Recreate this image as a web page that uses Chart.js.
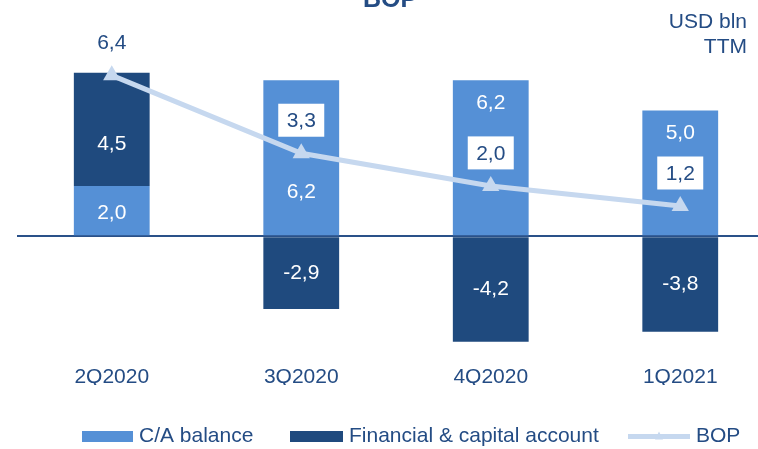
<!DOCTYPE html>
<html>
<head>
<meta charset="utf-8">
<script src="https://cdn.jsdelivr.net/npm/chart.js@4"></script>
<style>
  html, body { margin: 0; padding: 0; background: #fff; overflow: hidden; }
  #wrap { position: relative; width: 758px; height: 449px; overflow: hidden; }
</style>
</head>
<body>
<div id="wrap"><canvas id="chart" width="785" height="449"></canvas></div>
<script>
// Data
const quarters = ['2Q2020', '3Q2020', '4Q2020', '1Q2021'];
const caBalance = [2.0, 6.2, 6.2, 5.0];
const finAccount = [4.5, -2.9, -4.2, -3.8];
const bop = [6.4, 3.3, 2.0, 1.2];

const NAVY_TEXT = '#244c84';
const LIGHT_BAR = '#5590d6';
const DARK_BAR = '#1f4a7e';
const LINE_COL = '#c6d8ef';
const FONT = '"Liberation Sans", Arial, sans-serif';

Chart.defaults.font.family = FONT;
Chart.defaults.font.size = 21;

const fmt = v => v.toFixed(1).replace('.', ',');

// labels inside bars, boxed labels above the BOP line, title and legend
const labelsPlugin = {
    id: 'bopLabels',
    afterDatasetsDraw(chart, args, opts) {
        const ctx = chart.ctx;
        ctx.save();
        ctx.font = '21px ' + FONT;
        ctx.textAlign = 'center';
        ctx.textBaseline = 'middle';

        // bar segment labels
        [1, 2].forEach(di => {
            const meta = chart.getDatasetMeta(di);
            const vals = chart.data.datasets[di].data;
            meta.data.forEach((el, i) => {
                const nudge = (opts.nudge[di] || [])[i] || 0;
                const y = (el.y + el.base) / 2 + nudge;
                ctx.fillStyle = '#ffffff';
                ctx.fillText(fmt(vals[i]), el.x, y);
            });
        });

        // BOP labels in white boxes
        const lineMeta = chart.getDatasetMeta(0);
        lineMeta.data.forEach((pt, i) => {
            const cy = pt.y - opts.lift;
            ctx.fillStyle = '#ffffff';
            ctx.fillRect(pt.x - 23, cy - 16.5, 46, 33);
            ctx.fillStyle = NAVY_TEXT;
            ctx.fillText(fmt(bop[i]), pt.x, cy + 1);
        });
        ctx.restore();
    },
    afterDraw(chart) {
        const ctx = chart.ctx;
        ctx.save();
        ctx.fillStyle = NAVY_TEXT;
        ctx.textBaseline = 'alphabetic';

        ctx.font = 'bold 25px ' + FONT;
        ctx.textAlign = 'center';
        ctx.fillText('BOP', 390, 7);

        ctx.font = '21px ' + FONT;
        ctx.textAlign = 'right';
        ctx.fillText('USD bln', 747, 28);
        ctx.fillText('TTM', 747, 53);

        // legend
        const items = [
            { ds: 1, x: 82, w: 51 },
            { ds: 2, x: 290, w: 53 },
            { ds: 0, x: 628, w: 62 }
        ];
        const ly = 436.5;
        ctx.textAlign = 'left';
        ctx.textBaseline = 'middle';
        items.forEach(it => {
            const ds = chart.data.datasets[it.ds];
            if (ds.type === 'line') {
                ctx.strokeStyle = ds.borderColor;
                ctx.lineWidth = 5;
                ctx.beginPath();
                ctx.moveTo(it.x, ly);
                ctx.lineTo(it.x + it.w, ly);
                ctx.stroke();
                ctx.fillStyle = ds.borderColor;
                ctx.beginPath();
                const cx = it.x + it.w / 2;
                ctx.moveTo(cx, ly - 5);
                ctx.lineTo(cx + 4, ly + 3);
                ctx.lineTo(cx - 4, ly + 3);
                ctx.closePath();
                ctx.fill();
            } else {
                ctx.fillStyle = ds.backgroundColor;
                ctx.fillRect(it.x, ly - 5.5, it.w, 11);
            }
            ctx.fillStyle = NAVY_TEXT;
            ctx.fillText(ds.label, it.x + it.w + 6, ly);
        });
        ctx.restore();
    }
};

new Chart(document.getElementById('chart'), {
    data: {
        labels: quarters,
        datasets: [
            {
                type: 'line',
                label: 'BOP',
                data: bop,
                stack: 'bop',
                borderColor: LINE_COL,
                backgroundColor: LINE_COL,
                borderWidth: 5,
                pointStyle: 'triangle',
                pointRadius: 10,
                pointBorderWidth: 0,
                pointBackgroundColor: LINE_COL,
                tension: 0
            },
            {
                type: 'bar',
                label: 'C/A balance',
                data: caBalance,
                stack: 'bal',
                backgroundColor: LIGHT_BAR,
                barPercentage: 0.4,
                categoryPercentage: 1
            },
            {
                type: 'bar',
                label: 'Financial & capital account',
                data: finAccount,
                stack: 'bal',
                backgroundColor: DARK_BAR,
                barPercentage: 0.4,
                categoryPercentage: 1
            }
        ]
    },
    options: {
        responsive: false,
        animation: false,
        layout: { padding: { left: 17, right: 2, top: 9, bottom: 64 } },
        plugins: {
            legend: { display: false },
            tooltip: { enabled: false },
            bopLabels: {
                lift: 33,
                nudge: { 1: [3, 34, -55, -40], 2: [15, 0, 0, 0] }
            }
        },
        scales: {
            x: {
                stacked: true,
                grid: { display: false },
                border: { display: false },
                ticks: { color: NAVY_TEXT, padding: -5, font: { size: 21 } }
            },
            y: {
                stacked: true,
                min: -5,
                max: 9,
                ticks: { display: false, stepSize: 1 },
                border: { display: false },
                grid: {
                    drawTicks: false,
                    lineWidth: 2,
                    color: c => c.tick && c.tick.value === 0 ? '#2a5189' : 'rgba(0,0,0,0)'
                }
            }
        }
    },
    plugins: [labelsPlugin]
});
</script>
</body>
</html>
